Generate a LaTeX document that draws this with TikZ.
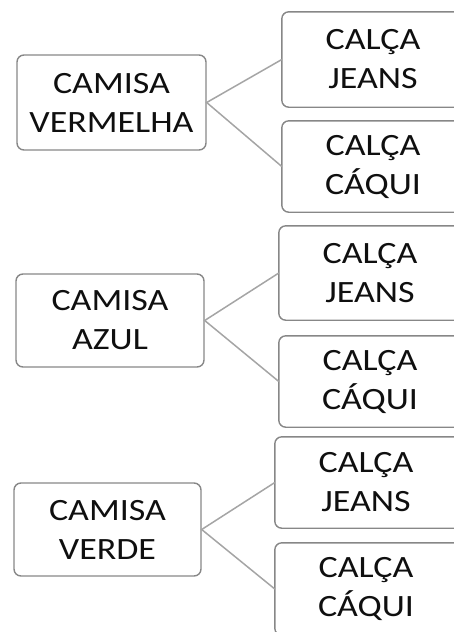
\documentclass[tikz,border=0pt]{standalone}
\usepackage{fontspec}
\setmainfont{Carlito}[FakeStretch=1.16]
\definecolor{boxline}{RGB}{135,135,135}
\definecolor{conline}{RGB}{165,165,165}
\definecolor{txt}{RGB}{15,15,15}
\begin{document}
\begin{tikzpicture}[x=1pt,y=-1pt,
  txtstyle/.style={align=center,inner sep=0pt,text=txt,font=\fontsize{31}{39}\selectfont},
  box/.style={txtstyle,draw=boxline,line width=1.4pt,rounded corners=7pt},
  rbox/.style={txtstyle,minimum width=182pt},
  frame/.style={draw=boxline,line width=1.4pt,rounded corners=7pt},
  conn/.style={draw=conline,line width=1.5pt}]
\useasboundingbox (0,0) rectangle (454,632);
\begin{scope}
\clip (0,0) rectangle (454,632);
\node[box,minimum width=189pt,minimum height=95pt] (l1) at (111.5,102.5) {CAMISA\\VERMELHA};
\node[box,minimum width=188pt,minimum height=93pt] (l2) at (110,320.5) {CAMISA\\AZUL};
\node[box,minimum width=187pt,minimum height=93pt] (l3) at (107.5,529.5) {CAMISA\\VERDE};
\node[rbox,minimum height=95pt] (r1a) at (373,59.5) {CALÇA\\JEANS};
\node[rbox,minimum height=91pt] (r1b) at (373,166.5) {CALÇA\\CÁQUI};
\node[rbox,minimum height=94pt] (r2a) at (370,273) {CALÇA\\JEANS};
\node[rbox,minimum height=91pt] (r2b) at (370,381.5) {CALÇA\\CÁQUI};
\node[rbox,minimum height=91pt] (r3a) at (366,482.5) {CALÇA\\JEANS};
\node[rbox,minimum height=92pt] (r3b) at (366,589) {CALÇA\\CÁQUI};
\foreach \n in {r1a,r1b,r2a,r2b,r3a,r3b}
  \draw[frame] ([xshift=60pt]\n.north east) -- (\n.north west) -- (\n.south west) -- ([xshift=60pt]\n.south east);
\draw[conn] (r1a.west) -- (l1.east) -- (r1b.west);
\draw[conn] (r2a.west) -- (l2.east) -- (r2b.west);
\draw[conn] (r3a.west) -- (l3.east) -- (r3b.west);
\end{scope}
\end{tikzpicture}
\end{document}
